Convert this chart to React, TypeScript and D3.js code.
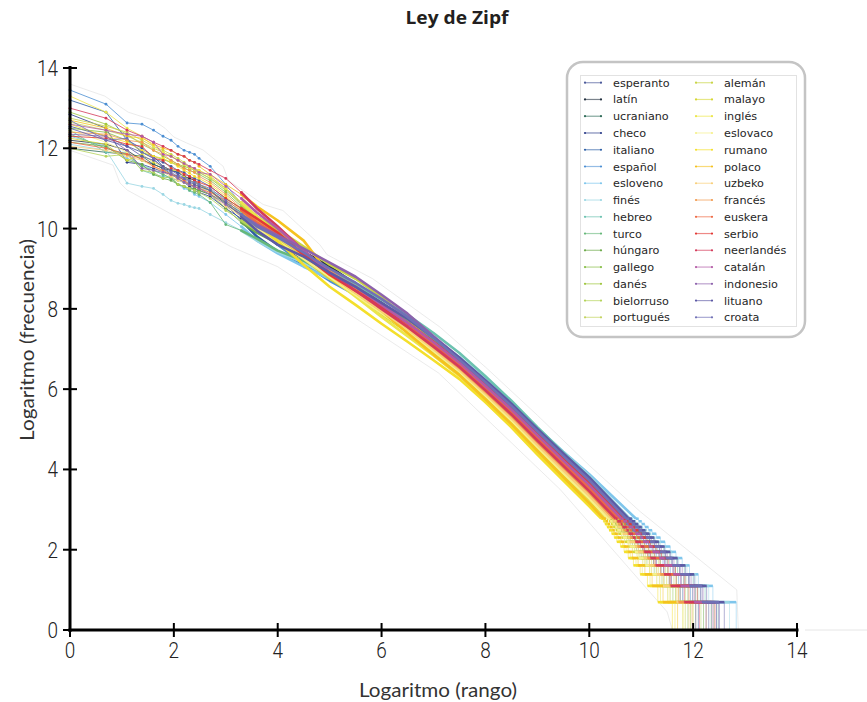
import React from 'react';
import * as d3 from 'd3';

const W = 867;
const H = 702;

const LANGUAGES = [
  'esperanto', 'latín', 'ucraniano', 'checo', 'italiano', 'español', 'esloveno', 'finés', 'hebreo', 'turco',
  'húngaro', 'gallego', 'danés', 'bielorruso', 'portugués', 'alemán', 'malayo', 'inglés', 'eslovaco', 'rumano',
  'polaco', 'uzbeko', 'francés', 'euskera', 'serbio', 'neerlandés', 'catalán', 'indonesio', 'lituano', 'croata',
];

const COLORS = [
  '#4a5899', '#23313f', '#2f6b58', '#2c3d8a', '#2c5ea6', '#4c8fd3', '#7fc6ec', '#9ad6e3', '#6cc2b0', '#66b87a',
  '#6caa4a', '#88be48', '#9fc63e', '#b4d35a', '#c3d35f', '#c8d444', '#d6d734', '#ece64a', '#f6f08c', '#f4df2b',
  '#f5c21f', '#f8cf7a', '#f29a4f', '#ee6a45', '#e33a36', '#d43a5a', '#b35aa6', '#8d62ac', '#5d5aa5', '#7070b5',
];

// ranks of the first words (x = ln rank)
const HEAD_RANKS = [1, 2, 3, 4, 5, 6, 7, 8, 9, 10, 11, 12];
// ln(frequency) of the first words, per language
const HEAD_Y = [
  [12.55, 12.3, 12.05, 11.9, 11.75, 11.65, 11.55, 11.45, 11.4, 11.3, 11.25, 11.2],
  [12.2, 12.1, 11.95, 11.7, 11.6, 11.5, 11.45, 11.4, 11.3, 11.25, 11.2, 11.1],
  [12.0, 11.9, 11.85, 11.8, 11.6, 11.5, 11.35, 11.3, 11.2, 11.1, 11.0, 10.95],
  [12.85, 12.5, 11.65, 11.6, 11.5, 11.42, 11.35, 11.25, 11.15, 11.05, 10.95, 10.9],
  [13.2, 12.9, 12.2, 12.0, 11.8, 11.55, 11.45, 11.4, 11.3, 11.2, 11.1, 11.05],
  [13.45, 13.1, 12.63, 12.6, 12.45, 12.3, 12.2, 12.05, 11.95, 11.9, 11.85, 11.75],
  [12.3, 12.05, 11.75, 11.6, 11.45, 11.35, 11.25, 11.1, 11.0, 10.95, 10.85, 10.8],
  [12.1, 11.95, 11.13, 11.05, 11.0, 10.85, 10.7, 10.63, 10.6, 10.55, 10.52, 10.5],
  [12.45, 11.9, 11.9, 11.45, 11.35, 11.3, 11.25, 11.2, 11.15, 11.1, 11.05, 11.0],
  [12.35, 12.0, 11.85, 11.55, 11.45, 11.35, 11.25, 11.1, 11.05, 10.95, 10.9, 10.85],
  [12.15, 12.05, 11.7, 11.6, 11.35, 11.25, 11.2, 11.1, 11.05, 11.0, 10.98, 10.95],
  [12.5, 12.4, 12.2, 11.9, 11.8, 11.72, 11.65, 11.58, 11.5, 11.45, 11.4, 11.35],
  [12.9, 12.6, 12.35, 12.1, 11.95, 11.8, 11.7, 11.6, 11.55, 11.5, 11.45, 11.4],
  [12.0, 11.8, 11.85, 11.45, 11.4, 11.25, 11.3, 11.1, 11.05, 11.0, 10.95, 10.9],
  [12.65, 12.45, 12.3, 12.15, 12.0, 11.9, 11.8, 11.7, 11.6, 11.52, 11.45, 11.4],
  [12.75, 12.55, 12.4, 12.2, 12.05, 11.95, 11.85, 11.75, 11.65, 11.55, 11.5, 11.45],
  [12.25, 12.1, 11.7, 11.85, 11.65, 11.55, 11.45, 11.45, 11.28, 11.2, 11.15, 11.1],
  [13.3, 12.9, 12.5, 12.3, 12.05, 11.9, 11.8, 11.7, 11.6, 11.52, 11.48, 11.45],
  [12.45, 12.15, 11.9, 11.7, 11.55, 11.45, 11.35, 11.25, 11.18, 11.12, 11.08, 11.05],
  [12.6, 12.3, 12.15, 11.95, 11.8, 11.75, 11.65, 11.55, 11.45, 11.38, 11.3, 11.25],
  [12.7, 12.5, 12.3, 12.25, 12.1, 12.0, 11.95, 11.85, 11.8, 11.7, 11.65, 11.55],
  [12.05, 11.95, 11.8, 11.7, 11.55, 11.4, 11.3, 11.2, 11.15, 11.1, 11.05, 11.0],
  [12.4, 12.35, 12.2, 12.15, 11.95, 11.85, 11.7, 11.6, 11.5, 11.45, 11.4, 11.3],
  [12.15, 12.0, 11.85, 11.75, 11.55, 11.45, 11.35, 11.3, 11.2, 11.1, 11.05, 11.0],
  [12.3, 12.25, 12.1, 12.05, 11.75, 11.7, 11.5, 11.45, 11.35, 11.3, 11.2, 11.15],
  [13.0, 12.75, 12.45, 12.3, 12.15, 12.05, 11.95, 11.85, 11.8, 11.7, 11.65, 11.6],
  [12.6, 12.45, 12.35, 12.3, 12.15, 11.85, 11.8, 11.7, 11.62, 11.55, 11.5, 11.4],
  [12.35, 12.3, 11.95, 11.5, 11.45, 11.4, 11.35, 11.25, 11.15, 11.1, 11.05, 11.0],
  [12.5, 12.2, 12.05, 11.8, 11.7, 11.55, 11.45, 11.35, 11.25, 11.15, 11.1, 11.05],
  [12.7, 12.2, 12.25, 11.9, 11.75, 11.5, 11.4, 11.3, 11.25, 11.2, 11.15, 11.1],
];

// ln(rank) sample positions along the dense middle part
const BODY_X = [2.7, 3.0, 3.3, 3.6, 4.0, 4.5, 5.0, 5.5, 6.0, 6.5, 7.0, 7.5, 8.0, 8.5, 9.0, 9.5, 10.0];
const BODY_Y = [
  [11.05, 10.75, 10.5, 10.15, 9.78, 9.3, 8.95, 8.5, 8.1, 7.65, 7.17, 6.66, 6.08, 5.49, 4.85, 4.22, 3.61],
  [10.95, 10.6, 10.35, 10.1, 9.8, 9.42, 9.05, 8.62, 8.12, 7.6, 7.06, 6.53, 5.94, 5.34, 4.68, 4.05, 3.42],
  [10.85, 10.65, 10.4, 10.05, 9.68, 9.3, 8.9, 8.55, 8.15, 7.7, 7.2, 6.68, 6.11, 5.52, 4.88, 4.26, 3.65],
  [10.8, 10.5, 10.25, 10.0, 9.6, 9.25, 8.8, 8.45, 8.05, 7.65, 7.2, 6.73, 6.17, 5.58, 4.95, 4.33, 3.73],
  [10.95, 10.6, 10.2, 9.8, 9.42, 9.1, 8.75, 8.4, 8.0, 7.55, 7.06, 6.55, 5.97, 5.37, 4.72, 4.08, 3.46],
  [11.55, 11.1, 10.6, 10.15, 9.6, 9.12, 8.7, 8.35, 7.95, 7.55, 7.1, 6.63, 6.06, 5.46, 4.82, 4.19, 3.58],
  [10.65, 10.35, 10.05, 9.7, 9.38, 9.05, 8.75, 8.45, 8.1, 7.7, 7.25, 6.78, 6.22, 5.65, 5.03, 4.44, 3.88],
  [10.35, 10.15, 9.95, 9.7, 9.42, 9.15, 8.8, 8.5, 8.13, 7.72, 7.28, 6.8, 6.25, 5.67, 5.04, 4.43, 3.84],
  [10.95, 10.75, 10.4, 10.05, 9.73, 9.35, 8.95, 8.6, 8.23, 7.85, 7.4, 6.9, 6.32, 5.71, 5.05, 4.42, 3.8],
  [10.65, 10.1, 9.95, 9.75, 9.45, 9.2, 8.85, 8.5, 8.1, 7.68, 7.2, 6.7, 6.14, 5.55, 4.91, 4.29, 3.69],
  [10.85, 10.5, 10.15, 9.9, 9.63, 9.3, 8.9, 8.5, 8.0, 7.6, 7.1, 6.6, 6.03, 5.43, 4.78, 4.16, 3.54],
  [11.2, 10.9, 10.55, 10.2, 9.83, 9.35, 8.85, 8.4, 7.95, 7.48, 6.98, 6.46, 5.86, 5.25, 4.59, 3.95, 3.31],
  [11.25, 10.95, 10.6, 10.25, 9.93, 9.4, 8.9, 8.45, 7.95, 7.5, 7.0, 6.48, 5.89, 5.28, 4.62, 3.98, 3.35],
  [10.75, 10.45, 10.2, 9.95, 9.68, 9.3, 8.9, 8.55, 8.07, 7.6, 7.08, 6.58, 6.01, 5.4, 4.74, 4.12, 3.51],
  [11.25, 11.0, 10.6, 10.3, 9.95, 9.4, 8.85, 8.4, 7.9, 7.45, 6.95, 6.43, 5.83, 5.22, 4.55, 3.91, 3.27],
  [11.3, 11.0, 10.65, 10.3, 9.98, 9.55, 9.1, 8.75, 8.3, 7.75, 7.12, 6.5, 5.92, 5.31, 4.65, 4.02, 3.39],
  [10.95, 10.65, 10.35, 10.1, 9.73, 9.25, 8.75, 8.35, 7.87, 7.42, 6.92, 6.4, 5.81, 5.19, 4.52, 3.87, 3.24],
  [11.3, 11.0, 10.65, 10.3, 9.88, 9.35, 8.8, 8.3, 7.8, 7.32, 6.84, 6.33, 5.72, 5.1, 4.42, 3.77, 3.12],
  [10.9, 10.6, 10.3, 10.0, 9.68, 9.25, 8.8, 8.35, 7.9, 7.45, 6.95, 6.44, 5.84, 5.22, 4.56, 3.91, 3.28],
  [11.1, 10.8, 10.45, 10.1, 9.68, 9.1, 8.55, 8.1, 7.63, 7.18, 6.72, 6.25, 5.67, 5.05, 4.37, 3.72, 3.08],
  [11.35, 11.1, 10.85, 10.55, 10.2, 9.7, 8.85, 8.4, 7.95, 7.4, 6.86, 6.35, 5.75, 5.13, 4.46, 3.81, 3.16],
  [10.85, 10.55, 10.3, 10.05, 9.78, 9.35, 8.85, 8.4, 7.95, 7.5, 7.0, 6.48, 5.89, 5.28, 4.62, 3.98, 3.35],
  [11.15, 10.85, 10.5, 10.2, 9.88, 9.4, 8.95, 8.5, 8.0, 7.55, 7.05, 6.53, 5.94, 5.34, 4.69, 4.05, 3.43],
  [10.9, 10.7, 10.45, 10.15, 9.83, 9.35, 8.9, 8.55, 8.05, 7.6, 7.12, 6.6, 6.03, 5.43, 4.78, 4.16, 3.54],
  [11.05, 10.75, 10.5, 10.25, 9.9, 9.35, 8.85, 8.45, 8.05, 7.65, 7.18, 6.68, 6.11, 5.52, 4.88, 4.26, 3.65],
  [11.45, 11.25, 10.9, 10.5, 10.05, 9.45, 8.9, 8.45, 8.0, 7.55, 7.06, 6.55, 5.97, 5.37, 4.72, 4.09, 3.46],
  [11.35, 11.05, 10.75, 10.4, 10.0, 9.45, 8.9, 8.55, 8.1, 7.65, 7.17, 6.66, 6.08, 5.49, 4.85, 4.22, 3.61],
  [10.85, 10.6, 10.35, 10.1, 9.83, 9.5, 9.15, 8.8, 8.35, 7.88, 7.32, 6.78, 6.19, 5.61, 4.98, 4.37, 3.76],
  [10.95, 10.65, 10.3, 9.95, 9.6, 9.3, 8.9, 8.55, 8.15, 7.75, 7.28, 6.78, 6.22, 5.64, 5.01, 4.4, 3.8],
  [11.0, 10.7, 10.35, 10.05, 9.78, 9.4, 9.0, 8.65, 8.25, 7.8, 7.28, 6.73, 6.17, 5.58, 4.95, 4.33, 3.73],
];

// frequency levels of the staircase tail (each level is one flat step)
const TAIL_FREQS = [16, 15, 14, 13, 12, 11, 10, 9, 8, 7, 6, 5, 4, 3, 2];
// ln(rank) where the tail reaches level 16, then where each level ends
const TAIL_X = [
  [10.61, 10.67, 10.72, 10.77, 10.84, 10.9, 10.98, 11.05, 11.14, 11.23, 11.34, 11.46, 11.61, 11.77, 11.99, 12.3],
  [10.48, 10.52, 10.57, 10.62, 10.68, 10.73, 10.8, 10.87, 10.94, 11.03, 11.13, 11.24, 11.38, 11.54, 11.75, 12.05],
  [10.64, 10.69, 10.75, 10.8, 10.87, 10.94, 11.01, 11.09, 11.17, 11.27, 11.38, 11.5, 11.65, 11.82, 12.04, 12.35],
  [10.7, 10.75, 10.81, 10.87, 10.94, 11.0, 11.08, 11.16, 11.25, 11.35, 11.46, 11.59, 11.74, 11.91, 12.14, 12.45],
  [10.5, 10.55, 10.6, 10.65, 10.71, 10.77, 10.83, 10.9, 10.98, 11.07, 11.17, 11.29, 11.43, 11.58, 11.8, 12.1],
  [10.59, 10.64, 10.69, 10.74, 10.81, 10.87, 10.94, 11.01, 11.1, 11.19, 11.29, 11.42, 11.56, 11.72, 11.95, 12.25],
  [10.9, 10.95, 11.01, 11.07, 11.14, 11.21, 11.29, 11.37, 11.46, 11.56, 11.67, 11.79, 11.93, 12.1, 12.38, 12.83],
  [10.78, 10.84, 10.9, 10.96, 11.03, 11.11, 11.19, 11.27, 11.37, 11.47, 11.59, 11.72, 11.88, 12.05, 12.3, 12.7],
  [10.75, 10.81, 10.87, 10.93, 11.0, 11.07, 11.15, 11.24, 11.33, 11.43, 11.55, 11.68, 11.83, 12.0, 12.23, 12.48],
  [10.67, 10.72, 10.78, 10.84, 10.9, 10.97, 11.05, 11.13, 11.21, 11.31, 11.42, 11.55, 11.7, 11.86, 12.09, 12.4],
  [10.56, 10.61, 10.66, 10.71, 10.77, 10.83, 10.91, 10.98, 11.06, 11.15, 11.25, 11.37, 11.51, 11.68, 11.9, 12.2],
  [10.39, 10.44, 10.48, 10.52, 10.58, 10.63, 10.69, 10.76, 10.83, 10.91, 11.0, 11.11, 11.25, 11.4, 11.61, 11.9],
  [10.42, 10.47, 10.51, 10.56, 10.61, 10.66, 10.73, 10.79, 10.87, 10.95, 11.04, 11.16, 11.29, 11.44, 11.66, 11.95],
  [10.53, 10.58, 10.63, 10.68, 10.74, 10.8, 10.87, 10.94, 11.02, 11.11, 11.21, 11.33, 11.47, 11.63, 11.85, 12.15],
  [10.37, 10.41, 10.45, 10.49, 10.55, 10.6, 10.66, 10.72, 10.79, 10.87, 10.96, 11.07, 11.2, 11.35, 11.56, 11.85],
  [10.45, 10.49, 10.54, 10.59, 10.64, 10.7, 10.76, 10.83, 10.9, 10.99, 11.08, 11.2, 11.33, 11.49, 11.71, 12.0],
  [10.34, 10.38, 10.42, 10.46, 10.51, 10.56, 10.62, 10.68, 10.75, 10.83, 10.92, 11.03, 11.16, 11.3, 11.51, 11.8],
  [10.26, 10.3, 10.33, 10.37, 10.42, 10.46, 10.52, 10.57, 10.64, 10.71, 10.79, 10.9, 11.02, 11.17, 11.37, 11.65],
  [10.36, 10.4, 10.45, 10.5, 10.54, 10.61, 10.65, 10.73, 10.78, 10.88, 10.95, 11.08, 11.19, 11.36, 11.54, 11.82],
  [10.23, 10.27, 10.3, 10.34, 10.38, 10.43, 10.48, 10.53, 10.6, 10.67, 10.75, 10.85, 10.98, 11.12, 11.32, 11.6],
  [10.28, 10.32, 10.36, 10.4, 10.45, 10.49, 10.55, 10.61, 10.67, 10.75, 10.83, 10.94, 11.07, 11.21, 11.42, 11.7],
  [10.43, 10.46, 10.52, 10.55, 10.62, 10.65, 10.74, 10.78, 10.88, 10.94, 11.05, 11.15, 11.3, 11.43, 11.68, 11.92],
  [10.47, 10.53, 10.56, 10.63, 10.67, 10.74, 10.79, 10.88, 10.93, 11.04, 11.12, 11.25, 11.37, 11.55, 11.72, 11.98],
  [10.57, 10.6, 10.67, 10.7, 10.78, 10.82, 10.92, 10.97, 11.07, 11.14, 11.26, 11.36, 11.52, 11.67, 11.92, 12.25],
  [10.65, 10.7, 10.76, 10.82, 10.88, 10.96, 11.02, 11.11, 11.18, 11.29, 11.39, 11.52, 11.66, 11.84, 12.08, 12.42],
  [10.51, 10.54, 10.61, 10.64, 10.72, 10.76, 10.84, 10.89, 10.99, 11.06, 11.18, 11.28, 11.44, 11.57, 11.83, 12.12],
  [10.62, 10.66, 10.73, 10.76, 10.85, 10.89, 10.99, 11.04, 11.15, 11.22, 11.35, 11.45, 11.62, 11.76, 12.02, 12.38],
  [10.72, 10.78, 10.84, 10.9, 10.97, 11.04, 11.12, 11.2, 11.29, 11.39, 11.5, 11.63, 11.79, 11.96, 12.19, 12.5],
  [10.76, 10.82, 10.88, 10.94, 11.01, 11.08, 11.16, 11.25, 11.34, 11.45, 11.56, 11.7, 11.85, 12.02, 12.26, 12.6],
  [10.71, 10.76, 10.82, 10.88, 10.95, 11.01, 11.09, 11.17, 11.26, 11.36, 11.47, 11.6, 11.75, 11.93, 12.17, 12.5],
];

// faint outline around the bundle of curves
const ENV_UPPER = [
  [0, 13.6], [0.67, 13.3], [1.12, 12.9], [1.6, 12.7], [1.83, 12.5], [2.0, 12.28], [2.25, 12.13], [2.56, 11.96],
  [2.95, 11.55], [3.05, 11.2], [3.72, 10.6], [4.1, 10.45], [4.81, 9.6], [4.95, 9.35], [5.83, 8.75], [7.12, 7.55],
  [8.0, 6.55], [9.0, 5.35], [10.0, 4.1], [10.98, 2.95], [12.84, 1.0], [12.87, 0],
];
const ENV_LOWER = [
  [0, 11.95], [0.83, 11.58], [0.96, 11.14], [1.1, 10.96], [3.1, 9.55], [4.0, 9.05], [5.4, 7.85], [7.1, 6.4],
  [9.44, 3.5], [11.5, 0.45], [11.6, 0],
];

const X_DOMAIN = [0, 14];
const Y_DOMAIN = [0, 14];

type P = [number, number];

export default function App() {
  const x = d3.scaleLinear().domain(X_DOMAIN).range([70, 797]);
  const y = d3.scaleLinear().domain(Y_DOMAIN).range([630, 68]);
  const line = d3.line<P>().x((d) => x(d[0])).y((d) => y(d[1]));

  const series = LANGUAGES.map((name, L) => {
    const head: P[] = HEAD_RANKS.map((r, i) => [Math.log(r), HEAD_Y[L][i]]);
    const body: P[] = BODY_X.map((bx, i) => [bx, BODY_Y[L][i]]);
    const thin: P[] = [...head, ...body.filter((p) => p[0] <= 3.3)];
    const tx = TAIL_X[L];
    const thick: P[] = [...body.filter((p) => p[0] >= 3.3), [tx[0], Math.log(TAIL_FREQS[0])]];
    const tailPts: P[] = [[tx[0], Math.log(TAIL_FREQS[0])]];
    const steps: [P, P][] = [];
    TAIL_FREQS.forEach((f, j) => {
      const ly = Math.log(f);
      const next = j + 1 < TAIL_FREQS.length ? Math.log(TAIL_FREQS[j + 1]) : 0;
      tailPts.push([tx[j + 1], ly]);
      tailPts.push([tx[j + 1], next]);
      steps.push([[tx[j], ly], [tx[j + 1], ly]]);
    });
    return { name, color: COLORS[L], thin, thick, tailPts, steps };
  });

  const envPoly: P[] = [...ENV_UPPER, ...[...ENV_LOWER].reverse()] as P[];

  const ticks = x.ticks(7);
  const yTicks = y.ticks(7);
  const tickFont = "'Liberation Sans Narrow', 'Roboto', sans-serif";

  const legendRowH = 16.76;

  return (
    <svg width={W} height={H} style={{ position: 'absolute', left: 0, top: 0, background: '#fff' }}>
      <rect x={0} y={0} width={W} height={H} fill="#fff" />
      <text x={457} y={24} textAnchor="middle" fontFamily="'Open Sans', Lato, sans-serif" fontWeight={700}
        fontSize={17} fill="#231f20" textLength={103} lengthAdjust="spacingAndGlyphs">Ley de Zipf</text>

      <path d={line(envPoly) + 'Z'} fill="none" stroke="#dedede" strokeWidth={0.6} />

      {series.map((s) => (
        <g key={s.name}>
          <path d={line(s.thin) || ''} fill="none" stroke={s.color} strokeWidth={0.9} strokeOpacity={0.9} />
          <path d={line(s.thick) || ''} fill="none" stroke={s.color} strokeWidth={2.6} strokeLinejoin="round" />
          <path d={line(s.tailPts) || ''} fill="none" stroke={s.color} strokeWidth={0.8} strokeOpacity={0.6} />
          {s.steps.map((st, k) => (
            <path key={k} d={line(st) || ''} fill="none" stroke={s.color} strokeWidth={2.6} />
          ))}
          {s.thin.map((p, k) => (
            <circle key={k} cx={x(p[0])} cy={y(p[1])} r={1.4} fill={s.color} />
          ))}
        </g>
      ))}

      {/* axes */}
      <line x1={805} x2={867} y1={630} y2={630} stroke="#e6e6e6" strokeWidth={1} />
      <line x1={70} x2={70} y1={66} y2={632} stroke="#000" strokeWidth={3} />
      <line x1={68.5} x2={798.5} y1={630} y2={630} stroke="#000" strokeWidth={3} />
      {ticks.map((t) => (
        <g key={'x' + t}>
          <line x1={x(t)} x2={x(t)} y1={623} y2={637} stroke="#000" strokeWidth={2} />
          <text x={x(t)} y={658} textAnchor="middle" fontFamily={tickFont} fontSize={22} fontWeight={300} fill="#222"
            textLength={String(t).length * 10.5} lengthAdjust="spacingAndGlyphs">{t}</text>
        </g>
      ))}
      {yTicks.map((t) => (
        <g key={'y' + t}>
          <line x1={63} x2={77} y1={y(t)} y2={y(t)} stroke="#000" strokeWidth={2} />
          <text x={58} y={y(t) + 8} textAnchor="end" fontFamily={tickFont} fontSize={22} fontWeight={300} fill="#222"
            textLength={String(t).length * 10.5} lengthAdjust="spacingAndGlyphs">{t}</text>
        </g>
      ))}

      <text x={438} y={697} textAnchor="middle" fontFamily="Lato, sans-serif" fontSize={19} fill="#333"
        textLength={158} lengthAdjust="spacingAndGlyphs">Logaritmo (rango)</text>
      <text transform="translate(34,340) rotate(-90)" textAnchor="middle" fontFamily="Lato, sans-serif" fontSize={19}
        fill="#333" textLength={202} lengthAdjust="spacingAndGlyphs">Logaritmo (frecuencia)</text>

      {/* legend */}
      <rect x={567} y={62} width={238} height={275} rx={16} ry={16} fill="#fff" stroke="#c4c4c4" strokeWidth={2.5} />
      <rect x={580.5} y={75.5} width={216} height={251} fill="#fff" stroke="#e2e2e2" strokeWidth={1} />
      {LANGUAGES.map((name, i) => {
        const col = i < 15 ? 0 : 1;
        const row = i % 15;
        const ly = 82.7 + row * legendRowH;
        const lx1 = col === 0 ? 585 : 696;
        const lx2 = lx1 + 16;
        const tx = col === 0 ? 613 : 724;
        return (
          <g key={name}>
            <line x1={lx1} x2={lx2} y1={ly} y2={ly} stroke={COLORS[i]} strokeWidth={1.2} strokeOpacity={0.6} />
            <circle cx={lx1} cy={ly} r={1.1} fill={COLORS[i]} />
            <circle cx={lx2} cy={ly} r={1.1} fill={COLORS[i]} />
            <text x={tx} y={ly} dy="0.36em" fontFamily="'DejaVu Sans', sans-serif" fontSize={11.2} fill="#262626">{name}</text>
          </g>
        );
      })}
    </svg>
  );
}
